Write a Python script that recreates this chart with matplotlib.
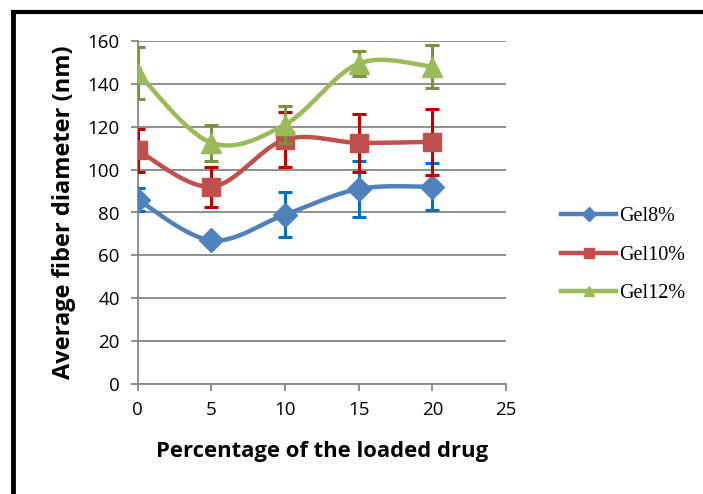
"""
Gel 섬유 직경 vs 약물 함량 차트 재현
"""
import numpy as np
import matplotlib
matplotlib.use('Agg')
import matplotlib.pyplot as plt
from matplotlib.lines import Line2D

# 데이터
drug_pct = [0, 5, 10, 15, 20]
gel8 = [86, 67, 79, 91, 92]
gel8_err = [5.5, 1.5, 10.6, 12.9, 11]
gel10 = [109, 92, 114, 112.5, 113]
gel10_err = [10, 9.4, 13, 13.6, 15.3]
gel12 = [145, 112.5, 121, 149.5, 148]
gel12_err = [12, 8.5, 8.5, 5.8, 10]
series_names = ['Gel8%', 'Gel10%', 'Gel12%']
y_ticks = [0, 20, 40, 60, 80, 100, 120, 140, 160]
x_ticks = [0, 5, 10, 15, 20, 25]


def smooth(xs, ys, n=40):
    """Excel 스타일 부드러운 선 (Catmull-Rom)"""
    p = np.column_stack([xs, ys]).astype(float)
    p = np.vstack([p[0], p, p[-1]])
    out = []
    t = np.linspace(0, 1, n)[:, None]
    for i in range(1, len(p) - 2):
        p0, p1, p2, p3 = p[i - 1], p[i], p[i + 1], p[i + 2]
        c1 = p1 + (p2 - p0) / 6
        c2 = p2 - (p3 - p1) / 6
        seg = ((1 - t) ** 3) * p1 + 3 * ((1 - t) ** 2) * t * c1 + 3 * (1 - t) * t ** 2 * c2 + t ** 3 * p2
        out.append(seg)
    out = np.vstack(out)
    return out[:, 0], out[:, 1]


W, H = 703, 494
fig = plt.figure(figsize=(W / 100, H / 100), dpi=100)
ax = fig.add_axes([137.7 / W, 1 - 384 / H, (506 - 137.7) / W, (384 - 41) / H])

# 바깥 테두리 (왼쪽, 위쪽만)
fig.add_artist(Line2D([12.5 / W, 1], [1 - 12.5 / H] * 2, color='black', lw=3, transform=fig.transFigure))
fig.add_artist(Line2D([12.5 / W] * 2, [0, 1 - 12.5 / H], color='black', lw=3.5, transform=fig.transFigure))

styles = [
    dict(data=gel8, err=gel8_err, line='#4F81BD', ecol='#0070C0', marker='D', ms=12.5),
    dict(data=gel10, err=gel10_err, line='#C0504D', ecol='#C00000', marker='s', ms=13),
    dict(data=gel12, err=gel12_err, line='#9BBB59', ecol='#77933C', marker='^', ms=15),
]

handles = []
for k, s in enumerate(styles):
    sx, sy = smooth(drug_pct, s['data'])
    ax.plot(sx, sy, color=s['line'], lw=3.2, solid_capstyle='round', zorder=3 + k * 3)
    ax.errorbar(drug_pct, s['data'], yerr=s['err'], fmt='none', ecolor=s['ecol'],
                elinewidth=2.2, capsize=5, capthick=2.2, zorder=4 + k * 3)
    ax.plot(drug_pct, s['data'], ls='none', marker=s['marker'], ms=s['ms'],
            color=s['line'], mec=s['line'], zorder=5 + k * 3)
    handles.append(Line2D([], [], color=s['line'], lw=3.2, marker=s['marker'], ms=7, mec=s['line']))

ax.set_xlim(0, 25)
ax.set_ylim(0, 160)
ax.set_xticks(x_ticks)
ax.set_yticks(y_ticks)
ax.grid(axis='y', color='#868686', lw=1.3)
ax.set_axisbelow(True)
for side in ['top', 'right']:
    ax.spines[side].set_visible(False)
for side in ['left', 'bottom']:
    ax.spines[side].set_color('#868686')
    ax.spines[side].set_linewidth(1.3)
ax.tick_params(axis='both', direction='out', length=5, width=1.3, color='#868686',
               labelsize=13.5)
for lab in ax.get_xticklabels() + ax.get_yticklabels():
    lab.set_fontfamily('Open Sans')
ax.tick_params(axis='x', pad=7)
ax.tick_params(axis='y', pad=8)

ax.set_xlabel('Percentage of the loaded drug', fontsize=15.8, fontweight='bold',
              fontfamily='Open Sans', labelpad=16)
ax.set_ylabel('Average fiber diameter (nm)', fontsize=17, fontweight='bold',
              fontfamily='Open Sans', labelpad=8)

fig.legend(handles, series_names, loc='center left', bbox_to_anchor=(553 / W, 1 - 255 / H),
           frameon=False, prop={'family': 'Liberation Serif', 'size': 14.5},
           handlelength=2.75, handletextpad=0.12, labelspacing=0.95, borderaxespad=0)

fig.savefig('out.png', dpi=100)
